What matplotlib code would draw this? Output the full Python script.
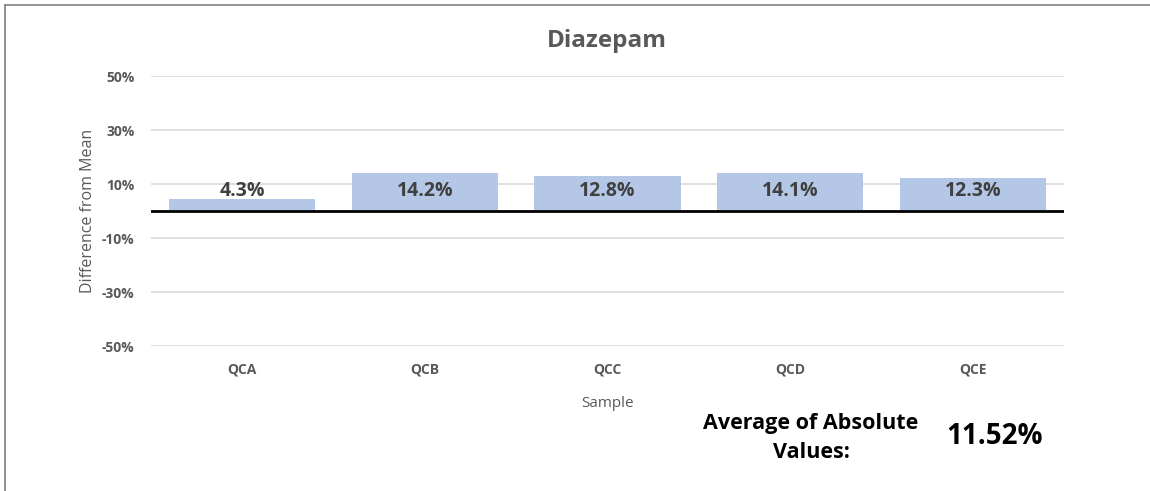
import matplotlib
matplotlib.use("Agg")
import matplotlib.pyplot as plt
from matplotlib.lines import Line2D

samples = ["QCA", "QCB", "QCC", "QCD", "QCE"]
diffs = [0.043, 0.142, 0.128, 0.141, 0.123]
value_labels = ["4.3%", "14.2%", "12.8%", "14.1%", "12.3%"]
yticks = [-0.5, -0.3, -0.1, 0.1, 0.3, 0.5]
ytick_labels = ["-50%", "-30%", "-10%", "10%", "30%", "50%"]
title = "Diazepam"
avg_label = "Average of Absolute\nValues:"
avg_value = "11.52%"

plt.rcParams['font.family'] = ['Open Sans', 'DejaVu Sans']
W, H = 1150, 491
fig = plt.figure(figsize=(W/100, H/100), dpi=100)
ax = fig.add_axes([151/W, 1-346/H, (1064-151)/W, (346-76)/H])

grey = "#595959"
ax.bar(range(len(samples)), diffs, width=0.8, color="#b4c7e7", zorder=2)
ax.set_xlim(-0.5, len(samples)-0.5)
ax.set_ylim(-0.5, 0.5)
ax.set_yticks(yticks)
ax.set_yticklabels(ytick_labels, fontsize=10, fontweight='bold', color=grey)
ax.set_xticks(range(len(samples)))
ax.set_xticklabels(samples, fontsize=10, fontweight='bold', color=grey)
ax.tick_params(length=0, pad=12)
ax.tick_params(axis='x', pad=12)
ax.grid(axis='y', color="#d9d9d9", linewidth=1.2, zorder=0)
for s in ax.spines.values():
    s.set_visible(False)
ax.axhline(0, color="black", linewidth=2, zorder=3)

for i, lab in enumerate(value_labels):
    ax.annotate(lab, (i, 0), xytext=(0, 14.5), textcoords='offset points',
                ha='center', va='center', fontsize=14, fontweight='bold',
                color="#404040", zorder=4)

ax.set_ylabel("Difference from Mean", fontsize=11.5, color=grey, labelpad=4)
ax.set_xlabel("Sample", fontsize=11, color=grey, labelpad=14)

fig.text(607/W, 1-41/H, title, ha='center', va='center', fontsize=17.5,
         fontweight='bold', color=grey)
fig.text(811/W, 1-438/H, avg_label, ha='center', va='center', fontsize=15.5,
         fontweight='bold', color='black', linespacing=1.45)
fig.text(995/W, 1-436/H, avg_value, ha='center', va='center', fontsize=20,
         fontweight='bold', color='black')

# outer border (top and left)
fig.add_artist(Line2D([5/W, 5/W], [0, 1-5/H], transform=fig.transFigure,
                      color="#7f7f7f", linewidth=1.2))
fig.add_artist(Line2D([5/W, 1], [1-5/H, 1-5/H], transform=fig.transFigure,
                      color="#7f7f7f", linewidth=1.2))

fig.savefig("out.png", dpi=100)
